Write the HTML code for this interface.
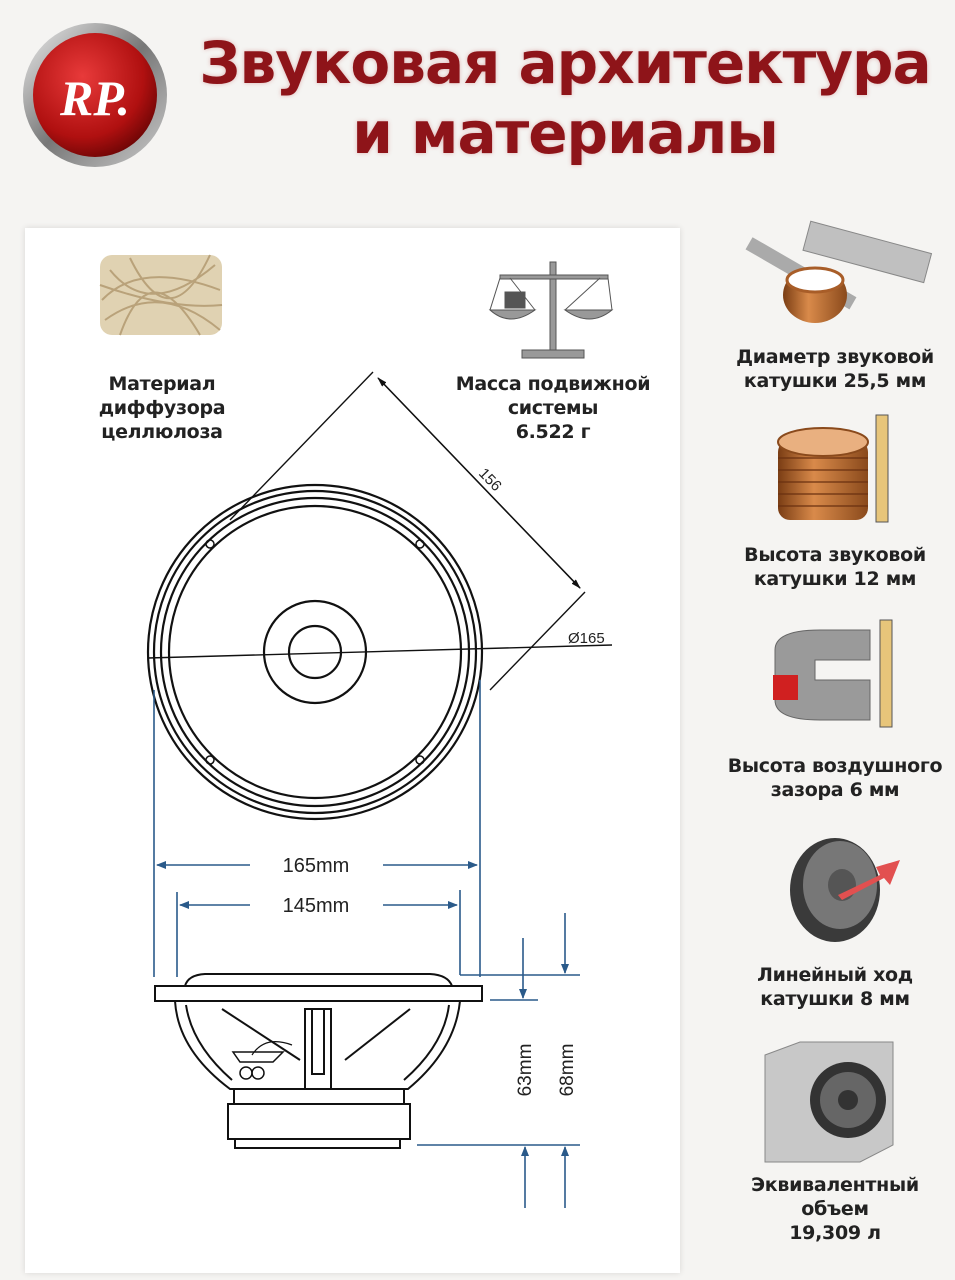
<!DOCTYPE html>
<html><head><meta charset="utf-8"><style>
html,body{margin:0;padding:0;background:#f5f4f2;}
body{width:955px;height:1280px;overflow:hidden;position:relative;font-family:"Liberation Sans","DejaVu Sans",sans-serif;}
.t{position:absolute;font-weight:bold;color:#222;text-align:center;font-size:19px;line-height:24px;font-family:"DejaVu Sans","Liberation Sans",sans-serif;letter-spacing:-0.3px}
.h{position:absolute;left:180px;width:770px;text-align:center;color:#8e1419;font-weight:bold;font-size:58px;line-height:70px;font-family:"DejaVu Sans","Liberation Sans",sans-serif;letter-spacing:-1px;text-shadow:0 0 4px rgba(180,60,60,.35)}
</style></head><body>
<div style="position:absolute;left:25px;top:228px;width:655px;height:1045px;background:#fff;box-shadow:0 0 6px rgba(0,0,0,.12)"></div>
<svg width="955" height="1280" style="position:absolute;left:0;top:0">
<defs>
<radialGradient id="rg" cx="40%" cy="35%" r="70%"><stop offset="0" stop-color="#e83a3a"/><stop offset=".7" stop-color="#b01010"/><stop offset="1" stop-color="#6a0505"/></radialGradient>
<linearGradient id="sil" x1="0" y1="0" x2="1" y2="1"><stop offset="0" stop-color="#eee"/><stop offset=".5" stop-color="#777"/><stop offset="1" stop-color="#ccc"/></linearGradient>
<linearGradient id="cu" x1="0" y1="0" x2="1" y2="0"><stop offset="0" stop-color="#7a3d14"/><stop offset=".4" stop-color="#d98a4a"/><stop offset="1" stop-color="#8a4a1c"/></linearGradient>
<marker id="ab" markerWidth="10" markerHeight="8" refX="9" refY="4" orient="auto" markerUnits="userSpaceOnUse"><path d="M0,0L10,4L0,8z" fill="#2a5a8a"/></marker>
<marker id="ak" markerWidth="10" markerHeight="6" refX="9" refY="3" orient="auto" markerUnits="userSpaceOnUse"><path d="M0,0L10,3L0,6z" fill="#111"/></marker>
</defs>
<!-- logo -->
<circle cx="95" cy="95" r="72" fill="url(#sil)"/>
<circle cx="95" cy="95" r="62" fill="url(#rg)"/>
<text x="95" y="115" font-family="Liberation Serif" font-style="italic" font-weight="bold" font-size="50" fill="#fff" text-anchor="middle">RP.</text>
<!-- fiber -->
<g stroke="#b9a27a" stroke-width="2" fill="none">
<rect x="100" y="255" width="122" height="80" fill="#e0d2b2" stroke="none" rx="12"/>
<path d="M102 300 Q140 260 220 290 M105 320 Q160 280 220 330 M110 270 Q150 320 215 265 M120 335 Q150 250 200 335 M100 285 Q170 310 222 305 M130 258 Q170 340 210 255"/>
</g>
<!-- scale -->
<g stroke="#555" fill="#999">
<rect x="550" y="262" width="6" height="88"/>
<rect x="522" y="350" width="62" height="8"/>
<rect x="500" y="275" width="108" height="4"/>
<path d="M490 310 Q510 328 535 310z"/><path d="M565 310 Q590 328 612 310z"/>
<rect x="505" y="292" width="20" height="16" fill="#555"/>
<line x1="500" y1="278" x2="490" y2="310" fill="none"/><line x1="510" y1="278" x2="535" y2="310" fill="none"/>
<line x1="600" y1="278" x2="565" y2="310" fill="none"/><line x1="608" y1="278" x2="612" y2="310" fill="none"/>
</g>
<!-- front view -->
<g fill="none" stroke="#111" stroke-width="2.2">
<circle cx="315" cy="652" r="167"/><circle cx="315" cy="652" r="161"/><circle cx="315" cy="652" r="154"/><circle cx="315" cy="652" r="146"/>
<circle cx="315" cy="652" r="51"/><circle cx="315" cy="652" r="26"/>
<circle cx="210" cy="544" r="4" stroke-width="1.5"/><circle cx="420" cy="544" r="4" stroke-width="1.5"/>
<circle cx="210" cy="760" r="4" stroke-width="1.5"/><circle cx="420" cy="760" r="4" stroke-width="1.5"/>
</g>
<g stroke="#111" stroke-width="1.4" fill="none">
<line x1="148" y1="658" x2="612" y2="645"/>
<line x1="373" y1="372" x2="230" y2="520"/>
<line x1="585" y1="592" x2="490" y2="690"/>
<line x1="380" y1="380" x2="580" y2="588" marker-end="url(#ak)"/>
<line x1="580" y1="588" x2="378" y2="378" marker-end="url(#ak)"/>
</g>
<text x="568" y="643" font-size="15" fill="#222">Ø165</text>
<text x="0" y="0" font-size="15" fill="#222" transform="translate(478,474) rotate(46)">156</text>
<!-- blue dims -->
<g stroke="#2a5a8a" stroke-width="1.6" fill="none">
<line x1="154" y1="690" x2="154" y2="977"/><line x1="480" y1="680" x2="480" y2="977"/>
<line x1="177" y1="892" x2="177" y2="977"/><line x1="460" y1="890" x2="460" y2="975"/>
<line x1="250" y1="865" x2="157" y2="865" marker-end="url(#ab)"/>
<line x1="383" y1="865" x2="477" y2="865" marker-end="url(#ab)"/>
<line x1="250" y1="905" x2="180" y2="905" marker-end="url(#ab)"/>
<line x1="383" y1="905" x2="457" y2="905" marker-end="url(#ab)"/>
<line x1="460" y1="975" x2="580" y2="975"/><line x1="490" y1="1000" x2="538" y2="1000"/>
<line x1="417" y1="1145" x2="580" y2="1145"/>
<line x1="565" y1="913" x2="565" y2="973" marker-end="url(#ab)"/>
<line x1="523" y1="938" x2="523" y2="998" marker-end="url(#ab)"/>
<line x1="525" y1="1208" x2="525" y2="1147" marker-end="url(#ab)"/>
<line x1="565" y1="1208" x2="565" y2="1147" marker-end="url(#ab)"/>
</g>
<text x="316" y="872" font-size="20" fill="#222" text-anchor="middle">165mm</text>
<text x="316" y="912" font-size="20" fill="#222" text-anchor="middle">145mm</text>
<text font-size="19" fill="#222" text-anchor="middle" transform="translate(531,1070) rotate(-90)">63mm</text>
<text font-size="19" fill="#222" text-anchor="middle" transform="translate(573,1070) rotate(-90)">68mm</text>
<!-- side view -->
<g fill="none" stroke="#111" stroke-width="2">
<path d="M185 986 Q188 975 205 974 L430 974 Q448 975 452 986"/>
<rect x="155" y="986" width="327" height="15" fill="#fff"/>
<path d="M175 1001 Q178 1050 230 1089 L408 1089 Q455 1050 460 1001"/>
<path d="M186 1005 Q192 1045 232 1080"/><path d="M449 1005 Q444 1045 404 1080"/>
<line x1="230" y1="1089" x2="404" y2="1089"/>
<line x1="222" y1="1009" x2="300" y2="1060"/><line x1="410" y1="1009" x2="345" y2="1060"/>
<rect x="305" y="1009" width="26" height="80"/><rect x="312" y="1009" width="12" height="65"/>
<rect x="234" y="1089" width="170" height="15"/><rect x="228" y="1104" width="182" height="35"/>
<rect x="235" y="1139" width="165" height="9"/>
<path d="M233 1052 L283 1052 L273 1062 L240 1062z" stroke-width="1.5"/>
<circle cx="246" cy="1073" r="6" stroke-width="1.5"/><circle cx="258" cy="1073" r="6" stroke-width="1.5"/>
<path d="M252 1055 Q265 1035 292 1045" stroke-width="1.2"/>
</g>
<!-- right icons -->
<g>
<rect x="795" y="215" width="14" height="120" fill="#aaa" transform="rotate(-60 800 275)"/>
<rect x="805" y="235" width="125" height="30" fill="#c0c0c0" stroke="#888" transform="rotate(15 860 250)"/>
<ellipse cx="815" cy="295" rx="32" ry="28" fill="url(#cu)"/><ellipse cx="815" cy="280" rx="28" ry="12" fill="#fff" stroke="#a85d28" stroke-width="3"/>
<rect x="778" y="440" width="90" height="80" fill="url(#cu)" rx="12"/>
<ellipse cx="823" cy="442" rx="45" ry="14" fill="#e9b080" stroke="#8a4a1c" stroke-width="2"/>
<g stroke="#6a3010" stroke-width="1.2"><line x1="778" y1="458" x2="868" y2="458"/><line x1="778" y1="470" x2="868" y2="470"/><line x1="778" y1="482" x2="868" y2="482"/><line x1="778" y1="494" x2="868" y2="494"/><line x1="778" y1="506" x2="868" y2="506"/></g>
<rect x="876" y="415" width="12" height="107" fill="#e7c57a" stroke="#555"/>
<rect x="880" y="620" width="12" height="107" fill="#e7c57a" stroke="#555"/>
<path d="M775 650 Q775 630 820 630 L870 630 L870 660 L815 660 L815 680 L870 680 L870 720 L820 720 Q775 720 775 700z" fill="#9a9a9a" stroke="#666"/>
<rect x="773" y="675" width="25" height="25" fill="#d02020"/>
<ellipse cx="835" cy="890" rx="45" ry="52" fill="#3a3a3a"/><ellipse cx="840" cy="885" rx="37" ry="44" fill="#777"/>
<ellipse cx="842" cy="885" rx="14" ry="16" fill="#555"/>
<path d="M838 895 L880 875 L876 867 L900 860 L890 885 L884 878 L842 900z" fill="#e25050"/>
<path d="M765 1055 L800 1042 L893 1042 L893 1145 L860 1162 L765 1162z" fill="#c8c8c8" stroke="#888"/>
<circle cx="848" cy="1100" r="38" fill="#333"/><circle cx="848" cy="1100" r="28" fill="#666"/><circle cx="848" cy="1100" r="10" fill="#333"/>
</g>
</svg>
<div class="h" style="top:28px">Звуковая архитектура</div>
<div class="h" style="top:98px">и материалы</div>
<div class="t" style="left:62px;width:200px;top:372px">Материал<br>диффузора<br>целлюлоза</div>
<div class="t" style="left:443px;width:220px;top:372px">Масса подвижной<br>системы<br>6.522 г</div>
<div class="t" style="left:715px;width:240px;top:345px">Диаметр звуковой<br>катушки 25,5 мм</div>
<div class="t" style="left:715px;width:240px;top:543px">Высота звуковой<br>катушки 12 мм</div>
<div class="t" style="left:715px;width:240px;top:754px">Высота воздушного<br>зазора 6 мм</div>
<div class="t" style="left:715px;width:240px;top:963px">Линейный ход<br>катушки 8 мм</div>
<div class="t" style="left:715px;width:240px;top:1173px">Эквивалентный<br>объем<br>19,309 л</div>
</body></html>
